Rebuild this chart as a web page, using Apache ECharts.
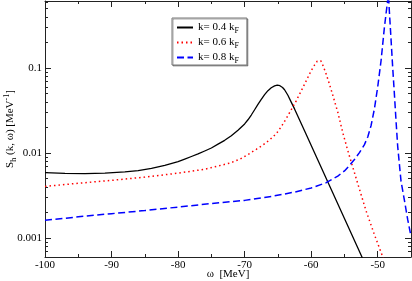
<!DOCTYPE html>
<html><head><meta charset="utf-8">
<script src="https://cdn.jsdelivr.net/npm/echarts@6/dist/echarts.min.js"></script>
<style>html,body{margin:0;padding:0;background:#fff}#c{width:412px;height:281px}</style>
</head><body><div id="c"></div>
<script>
// ---- data (omega in MeV, S_h in MeV^-1) ----
const k04Omega = [-100,-97,-94,-91,-88,-86,-84,-82,-80,-79,-78,-77,-76,-75,-74,-73,-72,-71,-70,-69.5,-69,-68.5,-68,-67.5,-67,-66.5,-66,-65.5,-65.1,-64.7,-64.3,-64,-63.5,-63,-62.5,-61,-59,-57,-55,-53,-52];
const k04S     = [0.0059,0.00578,0.00574,0.00581,0.006,0.00624,0.00661,0.00716,0.00794,0.00851,0.00912,0.00977,0.01059,0.01148,0.01274,0.01413,0.01603,0.01862,0.02203,0.02466,0.02805,0.03236,0.03733,0.04285,0.04864,0.0542,0.05861,0.06166,0.06295,0.06209,0.05916,0.05559,0.04786,0.03981,0.03311,0.01828,0.00828,0.00375,0.0017,0.000769,0.000518];

const k06Omega = [-100,-95,-90,-85,-80,-76,-72.25,-70.75,-69.25,-68.25,-67.25,-66.25,-65.25,-64.5,-63.75,-63,-62.25,-61.5,-60.75,-60,-59.5,-59.1,-58.85,-58.55,-58.2,-57.75,-57.25,-56.75,-56,-55.25,-54.5,-54,-53,-51.75,-50.5,-49.25,-49];
const k06S     = [0.00406,0.00442,0.00478,0.00522,0.00581,0.00646,0.00762,0.00847,0.00989,0.01109,0.01245,0.01429,0.0169,0.02042,0.02547,0.03236,0.04121,0.0537,0.07079,0.09333,0.1084,0.1202,0.1242,0.1216,0.1059,0.08511,0.06457,0.04786,0.0302,0.01738,0.01072,0.00794,0.00437,0.00209,0.0011,0.000603,0.000537];

const k08Omega = [-100,-95,-90,-85,-80,-75,-70,-66,-62.5,-60,-57.75,-56,-55,-54.25,-53.5,-52.75,-52,-51.5,-51,-50.5,-50,-49.5,-49,-48.75,-48.5,-48.42,-48.35,-48.1,-47.75,-47.5,-47.25,-47,-46.5,-46,-45.5,-45];
const k08S     = [0.00162,0.00178,0.00194,0.00211,0.00232,0.00255,0.00278,0.00309,0.00348,0.00389,0.00449,0.00537,0.00617,0.00716,0.00841,0.01012,0.01259,0.01549,0.02113,0.03311,0.06026,0.1219,0.2992,0.4365,0.631,1.122,0.631,0.2951,0.1016,0.0501,0.02399,0.01202,0.00468,0.00282,0.00166,0.00105];

const seriesNames = ['k= 0.4 kF','k= 0.6 kF','k= 0.8 kF'];
const xTickValues = [-100,-90,-80,-70,-60,-50];
const yMajorValues = [0.001,0.01,0.1];
const yMajorLabels = ['0.001','0.01','0.1'];
const yMinorValues = [0.0006,0.0007,0.0008,0.0009,0.002,0.003,0.004,0.005,0.006,0.007,0.008,0.009,0.02,0.03,0.04,0.05,0.06,0.07,0.08,0.09,0.2,0.3,0.4,0.5,0.6];
const xMin = -100, xMax = -45;
const yMin = 0.0006, yMax = 0.615;

// ---- build ----
const L = Math.log10;
const pairs = (w, s) => w.map((v, i) => [v, L(s[i])]);
const font = 'Liberation Serif';
const yLo = L(yMin), yHi = L(yMax);
const majorLog = yMajorValues.map(L);
const minorLog = yMinorValues.map(L);
const labelMap = {};
majorLog.forEach((v, i) => { labelMap[v.toFixed(3)] = yMajorLabels[i]; });

const yBase = {type:'value', min:yLo, max:yHi, splitLine:{show:false}};
const chart = echarts.init(document.getElementById('c'));
chart.setOption({
  animation:false,
  backgroundColor:'#fff',
  grid:{left:45, right:1, top:1, bottom:24, outerBoundsMode:'none', containLabel:false},
  legend:{
    orient:'vertical', left:172, top:18,
    padding:[2,8,0,4], itemGap:0, itemWidth:16, itemHeight:10,
    backgroundColor:'#fff', borderColor:'#777', borderWidth:1,
    shadowColor:'rgba(0,0,0,0.35)', shadowOffsetX:1, shadowOffsetY:1, shadowBlur:0,
    itemStyle:{opacity:0},
    formatter: n => n.replace(' kF', ' k{sub|F}'),
    textStyle:{fontFamily:font, fontSize:11, color:'#000', lineHeight:15,
      rich:{sub:{fontFamily:font, fontSize:8, padding:[7,0,0,0], color:'#000'}}}
  },
  xAxis:[
    {type:'value', min:xMin, max:xMax, interval:10, position:'bottom',
     name:'ω  [MeV]', nameLocation:'middle', nameGap:12, nameMoveOverlap:false,
     nameTextStyle:{fontFamily:font, fontSize:11, color:'#000'},
     axisLine:{lineStyle:{color:'#222', width:1}},
     axisTick:{inside:true, length:6, lineStyle:{color:'#222'}},
     minorTick:{show:true, splitNumber:2, length:3, lineStyle:{color:'#222'}},
     axisLabel:{customValues:xTickValues, fontFamily:font, fontSize:11, color:'#000', margin:3},
     splitLine:{show:false}},
    {type:'value', min:xMin, max:xMax, interval:10, position:'top',
     axisLine:{lineStyle:{color:'#222', width:1}},
     axisTick:{inside:true, length:6, lineStyle:{color:'#222'}},
     minorTick:{show:true, splitNumber:2, length:3, lineStyle:{color:'#222'}},
     axisLabel:{show:false}, splitLine:{show:false}}
  ],
  yAxis:[
    Object.assign({}, yBase, {position:'left',
      name:'S{sub|h} (k, ω) [MeV{sup|-1}]', nameLocation:'middle', nameGap:27, nameRotate:90, nameMoveOverlap:false,
      nameTextStyle:{fontFamily:font, fontSize:11, color:'#000', lineHeight:15,
        rich:{sub:{fontFamily:font, fontSize:8, padding:[7,0,0,0], color:'#000'},
              sup:{fontFamily:font, fontSize:8, padding:[0,0,7,0], color:'#000'}}},
      axisLine:{show:true, lineStyle:{color:'#222'}},
      axisTick:{inside:true, length:6, customValues:majorLog, lineStyle:{color:'#222'}},
      axisLabel:{customValues:majorLog, fontFamily:font, fontSize:11, color:'#000', margin:3,
        formatter: v => labelMap[v.toFixed(3)] || ''}}),
    Object.assign({}, yBase, {position:'left',
      axisLine:{show:false}, axisLabel:{show:false},
      axisTick:{inside:true, length:3, customValues:minorLog, lineStyle:{color:'#222'}}}),
    Object.assign({}, yBase, {position:'right',
      axisLine:{show:true, lineStyle:{color:'#222'}}, axisLabel:{show:false},
      axisTick:{inside:true, length:6, customValues:majorLog, lineStyle:{color:'#222'}}}),
    Object.assign({}, yBase, {position:'right',
      axisLine:{show:false}, axisLabel:{show:false},
      axisTick:{inside:true, length:3, customValues:minorLog, lineStyle:{color:'#222'}}})
  ],
  series:[
    {name:seriesNames[0], type:'line', data:pairs(k04Omega,k04S), symbol:'none', smooth:false,
     lineStyle:{color:'#000', width:1.3, type:'solid'}, itemStyle:{color:'#000'}},
    {name:seriesNames[1], type:'line', data:pairs(k06Omega,k06S), symbol:'none', smooth:false,
     lineStyle:{color:'#ff0000', width:1.5, type:[1.5,3]}, itemStyle:{color:'#ff0000'}},
    {name:seriesNames[2], type:'line', data:pairs(k08Omega,k08S), symbol:'none', smooth:false,
     lineStyle:{color:'#0000ff', width:1.5, type:[7,3.5]}, itemStyle:{color:'#0000ff'}}
  ]
});
</script></body></html>
